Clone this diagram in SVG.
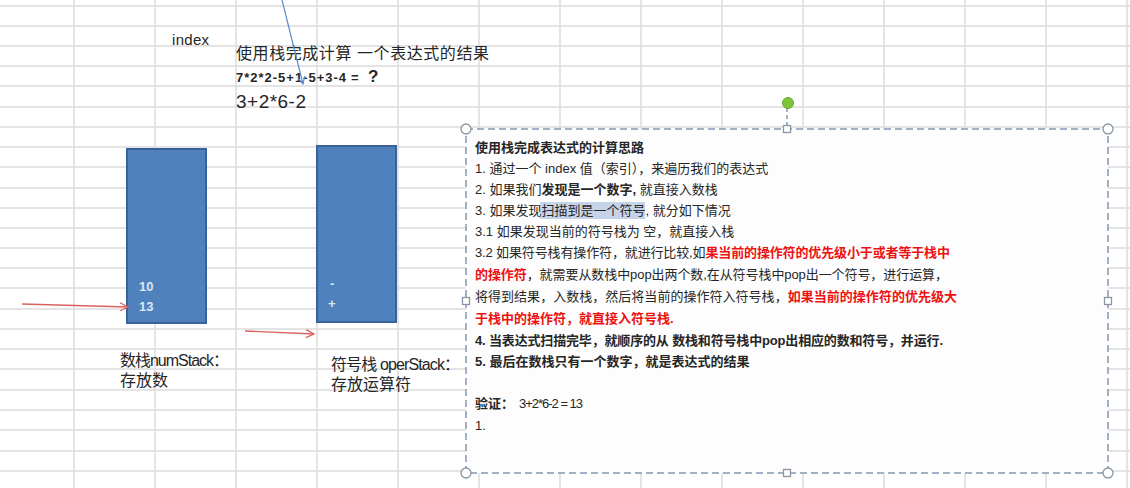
<svg xmlns="http://www.w3.org/2000/svg" width="1130" height="488" viewBox="0 0 1130 488">
<style>
.grid{stroke:#dcdcdc;stroke-width:1.5;fill:none}
.t{font-family:"Liberation Sans","Noto Sans CJK SC",sans-serif;fill:#262626}
.c{font-family:"Liberation Sans","Noto Sans CJK SC",sans-serif;fill:#262626;font-size:13px}
.b{font-weight:bold}
.r{fill:#ee1111;font-weight:bold}
.stack{fill:#4f81bd;stroke:#3a629a;stroke-width:2}
.sv{font-family:"Liberation Sans",sans-serif;font-weight:bold;font-size:13px;fill:#dce6f2}
.red{stroke:#d9625f;stroke-width:1.3;fill:none}
.h{fill:#ffffff;stroke:#8a96a3;stroke-width:1.3}
</style>
<defs>
<marker id="ar" viewBox="0 0 10 10" refX="9" refY="5" markerWidth="10" markerHeight="10" markerUnits="userSpaceOnUse" orient="auto">
<path d="M1,1 L9,5 L1,9" fill="none" stroke="#d9625f" stroke-width="1.3"/>
</marker>
<marker id="ab" viewBox="0 0 10 10" refX="9" refY="5" markerWidth="9" markerHeight="9" markerUnits="userSpaceOnUse" orient="auto">
<path d="M1,1 L9,5 L1,9" fill="none" stroke="#5b8bd0" stroke-width="1.2"/>
</marker>
</defs>
<rect width="1130" height="488" fill="#ffffff"/>
<g id="grid" class="grid">
<path d="M0,6H1130M0,26H1130M0,46H1130M0,66H1130M0,86H1130M0,107H1130M0,127H1130M0,147H1130M0,167H1130M0,188H1130M0,208H1130M0,228H1130M0,248H1130M0,268H1130M0,288H1130M0,309H1130M0,329H1130M0,349H1130M0,369H1130M0,390H1130M0,410H1130M0,430H1130M0,451H1130M0,471H1130"/>
<path d="M74,0V488M155,0V488M236,0V488M317,0V488M398,0V488M479,0V488M560,0V488M641,0V488M722,0V488M803,0V488M884,0V488M965,0V488M1046,0V488M1127,0V488"/>
</g>
<g id="top-labels">
<text class="t" x="172" y="45" font-size="15" textLength="37">index</text>
<text class="t" x="236" y="59" font-size="16" textLength="253">使用栈完成计算 一个表达式的结果</text>
<text class="t b" x="236" y="82" font-size="13" textLength="110">7*2*2-5+1-5+3-4</text>
<text class="t b" x="351" y="82" font-size="13">=</text>
<text class="t b" x="368" y="82" font-size="17">?</text>
<text class="t" x="236" y="108" font-size="19" textLength="70">3+2*6-2</text>
</g>
<g id="numStack">
<rect class="stack" x="127" y="149" width="79" height="174"/>
<text class="sv" x="139" y="291">10</text>
<text class="sv" x="139" y="311">13</text>
<text class="t" x="120" y="366" font-size="16" textLength="109">数栈numStack：</text>
<text class="t" x="120" y="386" font-size="16">存放数</text>
</g>
<g id="operStack">
<rect class="stack" x="317" y="146" width="79" height="176"/>
<text class="sv" x="330" y="288">-</text>
<text class="sv" x="328" y="308">+</text>
<text class="t" x="331" y="370" font-size="16" textLength="129">符号栈 operStack：</text>
<text class="t" x="331" y="390" font-size="16">存放运算符</text>
</g>
<g id="connectors">
<line class="red" x1="22" y1="304" x2="128" y2="307" marker-end="url(#ar)"/>
<line class="red" x1="245" y1="331" x2="314" y2="334" marker-end="url(#ar)"/>
<line x1="282" y1="0" x2="303" y2="84" stroke="#5b8bd0" stroke-width="1.2" marker-end="url(#ab)"/>
</g>
<g id="textbox">
<rect x="466" y="129" width="642" height="344" fill="#fdfdfd" stroke="#8497b0" stroke-width="1.5" stroke-dasharray="7 4"/>
<line x1="787" y1="108" x2="787" y2="126" stroke="#8497b0" stroke-width="1.5" stroke-dasharray="4 3"/>
<circle cx="788" cy="103" r="5.5" fill="#7dc63a" stroke="#6aa832" stroke-width="1"/>
<circle class="h" cx="466" cy="129" r="5"/>
<circle class="h" cx="1108" cy="129" r="5"/>
<circle class="h" cx="466" cy="473" r="5"/>
<circle class="h" cx="1108" cy="473" r="5"/>
<rect class="h" x="783.5" y="125.5" width="7" height="7"/>
<rect class="h" x="783.5" y="469.5" width="7" height="7"/>
<rect class="h" x="462.5" y="297.5" width="7" height="7"/>
<rect class="h" x="1104.5" y="297.5" width="7" height="7"/>
<rect x="540" y="202" width="105" height="17" fill="#c6d4e9"/>
<text class="c b" x="475" y="152">使用栈完成表达式的计算思路</text>
<text class="c" x="475" y="173">1. 通过一个 index 值（索引），来遍历我们的表达式</text>
<text class="c" x="475" y="194">2. 如果我们<tspan class="b">发现是一个数字,</tspan> 就直接入数栈</text>
<text class="c" x="475" y="215">3. 如果发现扫描到是一个符号, 就分如下情况</text>
<text class="c" x="475" y="236">3.1 如果发现当前的符号栈为 空，就直接入栈</text>
<text class="c" x="475" y="257" textLength="475">3.2 如果符号栈有操作符，就进行比较,如<tspan class="r">果当前的操作符的优先级小于或者等于栈中</tspan></text>
<text class="c" x="475" y="279" textLength="473"><tspan class="r">的操作符</tspan>，就需要从数栈中pop出两个数,在从符号栈中pop出一个符号，进行运算，</text>
<text class="c" x="475" y="301" textLength="482">将得到结果，入数栈，然后将当前的操作符入符号栈，<tspan class="r">如果当前的操作符的优先级大</tspan></text>
<text class="c r" x="475" y="323">于栈中的操作符，就直接入符号栈.</text>
<text class="c b" x="475" y="345" textLength="468">4. 当表达式扫描完毕，就顺序的从 数栈和符号栈中pop出相应的数和符号，并运行.</text>
<text class="c b" x="475" y="366">5. 最后在数栈只有一个数字，就是表达式的结果</text>
<text class="c b" x="475" y="408" font-size="15">验证：</text>
<text class="c" x="519" y="408" font-size="12" textLength="64">3+2*6-2 = 13</text>
<text class="c" x="475" y="430">1.</text>
</g>
</svg>
